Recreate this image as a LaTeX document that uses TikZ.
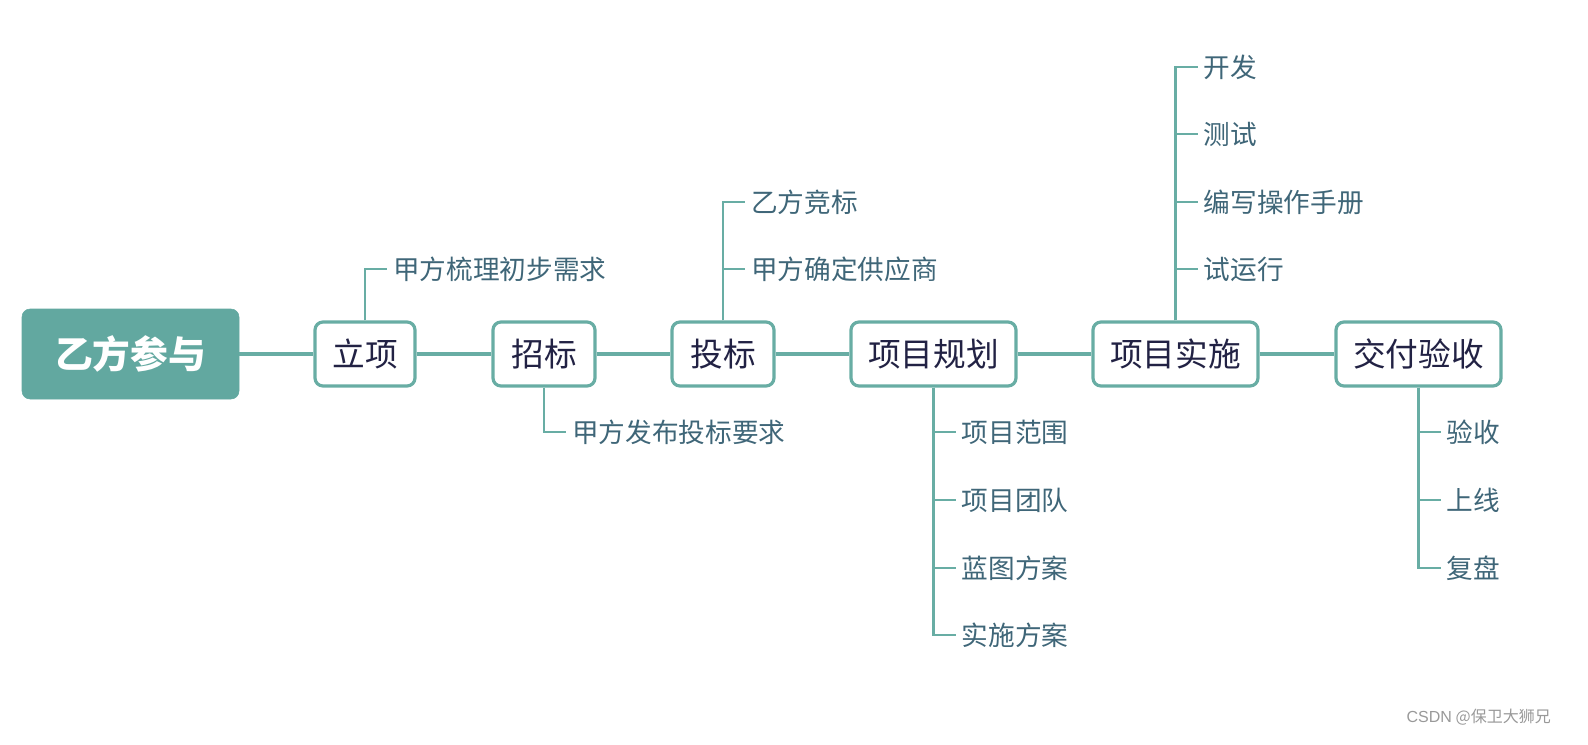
\documentclass[tikz,border=0pt]{standalone}
\usepackage{fontspec}
\setmainfont{Noto Sans CJK SC}
\newfontfamily\wmfont{Liberation Sans}
\definecolor{teal1}{HTML}{62A8A0}
\definecolor{line1}{HTML}{68ADA4}
\definecolor{maintext}{HTML}{222244}
\definecolor{subtext}{HTML}{3F6678}
\begin{document}
\begin{tikzpicture}[x=0.75pt,y=-0.75pt,
  rootbox/.style={draw=teal1,fill=teal1,rounded corners=6pt,minimum width=217*0.75pt,minimum height=90*0.75pt,text=white,font=\fontsize{28.3pt}{30pt}\selectfont\bfseries,inner sep=0pt},
  mainbox/.style={draw=line1,line width=2.4pt,fill=white,rounded corners=6pt,minimum height=64*0.75pt,text=maintext,font=\fontsize{24.5pt}{26pt}\selectfont,inner sep=0pt},
  subtxt/.style={anchor=west,inner xsep=4.5pt,inner ysep=0pt,text=subtext,font=\fontsize{20pt}{22pt}\selectfont},
  conn/.style={draw=line1,line width=2.8pt},
  br/.style={draw=line1,line width=2.2pt}]
\useasboundingbox (0,0) rectangle (1588,744);
% main nodes
\node[rootbox] (root) at (130.5,354) {乙方参与};
\node[mainbox,minimum width=100*0.75pt] (lx) at (365,354) {立项};
\node[mainbox,minimum width=102*0.75pt] (zb) at (544,354) {招标};
\node[mainbox,minimum width=102*0.75pt] (tb) at (723,354) {投标};
\node[mainbox,minimum width=165*0.75pt] (gh) at (933.5,354) {项目规划};
\node[mainbox,minimum width=165*0.75pt] (ss) at (1175.5,354) {项目实施};
\node[mainbox,minimum width=165*0.75pt] (jf) at (1418.5,354) {交付验收};
% main connectors
\draw[conn] (root) -- (lx);
\draw[conn] (lx) -- (zb);
\draw[conn] (zb) -- (tb);
\draw[conn] (tb) -- (gh);
\draw[conn] (gh) -- (ss);
\draw[conn] (ss) -- (jf);
% sub items
\node[subtxt] (a1) at (387,269) {甲方梳理初步需求};
\node[subtxt] (b1) at (566,432) {甲方发布投标要求};
\node[subtxt] (c1) at (745,202) {乙方竞标};
\node[subtxt] (c2) at (745,269) {甲方确定供应商};
\node[subtxt] (d1) at (955.5,432) {项目范围};
\node[subtxt] (d2) at (955.5,500) {项目团队};
\node[subtxt] (d3) at (955.5,568) {蓝图方案};
\node[subtxt] (d4) at (955.5,635) {实施方案};
\node[subtxt] (e1) at (1197.5,67) {开发};
\node[subtxt] (e2) at (1197.5,134) {测试};
\node[subtxt] (e3) at (1197.5,202) {编写操作手册};
\node[subtxt] (e4) at (1197.5,269) {试运行};
\node[subtxt] (f1) at (1440.5,432) {验收};
\node[subtxt] (f2) at (1440.5,500) {上线};
\node[subtxt] (f3) at (1440.5,568) {复盘};
% branches
\draw[br] (lx.north) |- (a1.west);
\draw[br] (zb.south) |- (b1.west);
\foreach \q in {c1,c2} \draw[br] (tb.north) |- (\q.west);
\foreach \q in {d1,d2,d3,d4} \draw[br] (gh.south) |- (\q.west);
\foreach \q in {e1,e2,e3,e4} \draw[br] (ss.north) |- (\q.west);
\foreach \q in {f1,f2,f3} \draw[br] (jf.south) |- (\q.west);
% watermark
\node[anchor=east,inner sep=0pt,text=gray!80,font=\fontsize{12pt}{14pt}\selectfont] (wm) at (1551,717) {{\wmfont CSDN} @保卫大狮兄};
\end{tikzpicture}
\end{document}
